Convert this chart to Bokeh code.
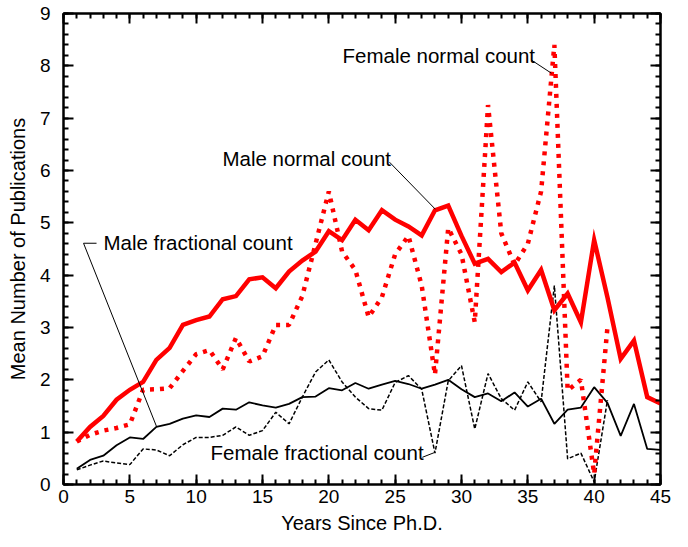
from bokeh.plotting import figure
from bokeh.models import Range1d, LinearAxis, SingleIntervalTicker, CustomJSTickFormatter
from bokeh.core.properties import value
from bokeh.embed import file_html
from bokeh.resources import INLINE

# ---- data ----
years_male = list(range(1, 46))
years_female = list(range(1, 42))

male_normal = [0.82, 1.10, 1.31, 1.62, 1.81, 1.96, 2.38, 2.61, 3.05, 3.14,
               3.21, 3.54, 3.60, 3.92, 3.96, 3.75, 4.07, 4.28, 4.45, 4.84,
               4.67, 5.06, 4.86, 5.24, 5.06, 4.93, 4.76, 5.24, 5.33, 4.75,
               4.22, 4.31, 4.06, 4.24, 3.71, 4.10, 3.33, 3.65, 3.10, 4.67,
               3.58, 2.40, 2.75, 1.67, 1.55]

female_normal = [0.82, 0.95, 1.03, 1.08, 1.15, 1.81, 1.82, 1.84, 2.17, 2.49,
                 2.57, 2.20, 2.80, 2.35, 2.45, 3.05, 3.05, 3.60, 4.60, 5.60,
                 4.45, 4.10, 3.20, 3.58, 4.40, 4.75, 3.80, 2.10, 4.90, 4.40,
                 3.10, 7.25, 4.80, 4.20, 4.60, 5.60, 8.40, 1.80, 2.00, 0.20,
                 3.00]

male_fractional = [0.30, 0.47, 0.55, 0.75, 0.90, 0.87, 1.10, 1.16, 1.26, 1.32,
                   1.29, 1.45, 1.43, 1.57, 1.51, 1.47, 1.54, 1.67, 1.68, 1.84,
                   1.80, 1.94, 1.83, 1.91, 1.98, 1.92, 1.83, 1.91, 2.00, 1.82,
                   1.67, 1.74, 1.59, 1.76, 1.49, 1.64, 1.16, 1.43, 1.47, 1.86,
                   1.56, 0.93, 1.54, 0.68, 0.66]

female_fractional = [0.28, 0.37, 0.45, 0.41, 0.38, 0.68, 0.66, 0.55, 0.76, 0.90,
                     0.90, 0.94, 1.10, 0.94, 1.03, 1.38, 1.16, 1.67, 2.15, 2.38,
                     1.96, 1.67, 1.45, 1.42, 1.95, 2.08, 1.82, 0.60, 1.98, 2.27,
                     1.06, 2.12, 1.64, 1.42, 1.96, 1.58, 3.80, 0.49, 0.60, 0.05,
                     1.61]

label_texts = ["Female normal count", "Male normal count",
               "Male fractional count", "Female fractional count"]
label_x = [21.03, 11.98, 3.01, 11.08]
label_y = [8.20, 6.23, 4.63, 0.61]

leader_fn_x = [35.27, 36.77]
leader_fn_y = [8.11, 7.86]
leader_mn_x = [24.57, 28.03]
leader_mn_y = [6.16, 5.26]
leader_mf_x = [2.49, 1.51, 7.01]
leader_mf_y = [4.61, 4.61, 1.11]
leader_ff_x = [27.05, 27.96]
leader_ff_y = [0.52, 0.61]

x_title = "Years Since Ph.D."
y_title = "Mean Number of Publications"

FONT = "Liberation Sans"
TICK_FS = "19px"
TITLE_FS = "20px"
NOTE_FS = "20.5px"

p = figure(width=688, height=547,
           x_range=Range1d(0, 45), y_range=Range1d(0, 9),
           output_backend="svg", toolbar_location=None,
           min_border_left=63, min_border_right=28,
           min_border_top=13, min_border_bottom=63,
           x_axis_label=x_title, y_axis_label=y_title)

p.grid.visible = False
p.background_fill_color = "white"
p.border_fill_color = "white"
p.outline_line_color = "black"
p.outline_line_width = 2


def style_axis(ax, show_labels):
    ax.axis_line_width = 2
    ax.axis_line_color = "black"
    ax.major_tick_in = 10
    ax.major_tick_out = 0
    ax.minor_tick_in = 5
    ax.minor_tick_out = 0
    ax.major_tick_line_width = 2
    ax.minor_tick_line_width = 2
    ax.major_tick_line_color = "black"
    ax.minor_tick_line_color = "black"
    if show_labels:
        ax.major_label_text_font = FONT
        ax.major_label_text_font_size = TICK_FS
        ax.major_label_text_color = "black"
        ax.axis_label_text_font = FONT
        ax.axis_label_text_font_size = TITLE_FS
        ax.axis_label_text_font_style = "normal"
        ax.axis_label_text_color = "black"
    else:
        ax.major_label_text_font_size = "0px"
        ax.major_label_standoff = 0
        ax.formatter = CustomJSTickFormatter(code="return ''")


p.xaxis.ticker = SingleIntervalTicker(interval=5, num_minor_ticks=5)
p.yaxis.ticker = SingleIntervalTicker(interval=1, num_minor_ticks=5)
style_axis(p.xaxis[0], True)
style_axis(p.yaxis[0], True)
p.xaxis[0].major_label_standoff = 5
p.yaxis[0].major_label_standoff = 13
p.xaxis[0].axis_label_standoff = 6
p.yaxis[0].axis_label_standoff = 8

top = LinearAxis(ticker=SingleIntervalTicker(interval=5, num_minor_ticks=5))
right = LinearAxis(ticker=SingleIntervalTicker(interval=1, num_minor_ticks=5))
style_axis(top, False)
style_axis(right, False)
p.add_layout(top, "above")
p.add_layout(right, "right")

# ---- series ----
p.line(years_female, female_fractional, line_color="black", line_width=1.5,
       line_dash="4 2")
p.line(years_male, male_fractional, line_color="black", line_width=1.8)
p.line(years_female, female_normal, line_color="#ff0000", line_width=4.5,
       line_dash="4 6")
p.line(years_male, male_normal, line_color="#ff0000", line_width=4.5,
       line_join="miter")

# ---- leaders ----
for lx, ly in [(leader_fn_x, leader_fn_y), (leader_mn_x, leader_mn_y),
               (leader_mf_x, leader_mf_y), (leader_ff_x, leader_ff_y)]:
    p.line(lx, ly, line_color="black", line_width=1)

p.text(x=label_x, y=label_y, text=label_texts,
       text_font=value(FONT), text_font_size=value(NOTE_FS),
       text_color="black", text_baseline="middle", text_align="left")

open("out.html", "w").write(file_html(p, INLINE))
